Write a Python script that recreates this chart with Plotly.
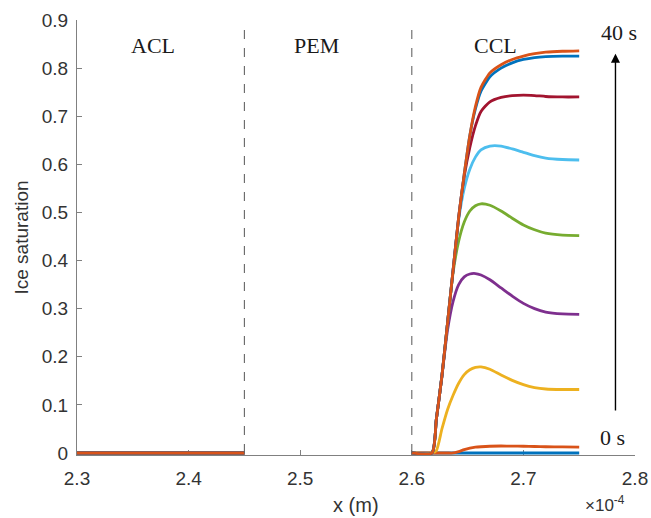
import plotly.graph_objects as go

# x positions (units of 1e-4 m)
x_acl = [2.30, 2.45]
x_ccl = [2.600, 2.618, 2.622, 2.627, 2.632, 2.637, 2.642, 2.647, 2.652, 2.657,
         2.662, 2.670, 2.680, 2.690, 2.700, 2.710, 2.720, 2.735, 2.750]

# ice saturation profiles, 0 s -> 40 s
s_t0 = [0] * 19
s_t1 = [0, 0, 0, 0, 0, 0, 0.003, 0.007, 0.010, 0.012, 0.013, 0.014, 0.0145, 0.0143,
        0.014, 0.0135, 0.013, 0.0125, 0.012]
s_t2 = [0, 0, 0.005, 0.05, 0.09, 0.12, 0.145, 0.163, 0.173, 0.178, 0.179, 0.174,
        0.162, 0.151, 0.142, 0.136, 0.133, 0.132, 0.132]
s_t3 = [0, 0, 0.07, 0.16, 0.255, 0.315, 0.35, 0.366, 0.372, 0.373, 0.370, 0.360,
        0.343, 0.326, 0.311, 0.300, 0.293, 0.289, 0.288]
s_t4 = [0, 0, 0.07, 0.16, 0.27, 0.375, 0.44, 0.48, 0.503, 0.514, 0.518, 0.515,
        0.503, 0.488, 0.474, 0.464, 0.457, 0.453, 0.452]
s_t5 = [0, 0, 0.07, 0.16, 0.27, 0.38, 0.485, 0.55, 0.59, 0.615, 0.63, 0.638,
        0.638, 0.632, 0.625, 0.618, 0.613, 0.61, 0.609]
s_t6 = [0, 0, 0.07, 0.16, 0.27, 0.38, 0.49, 0.575, 0.635, 0.68, 0.71, 0.73,
        0.739, 0.743, 0.744, 0.743, 0.741, 0.740, 0.740]
s_t7 = [0, 0, 0.07, 0.16, 0.27, 0.38, 0.49, 0.58, 0.66, 0.715, 0.752, 0.782,
        0.800, 0.811, 0.818, 0.822, 0.824, 0.825, 0.825]
s_t8 = [0, 0, 0.07, 0.16, 0.27, 0.38, 0.49, 0.58, 0.66, 0.72, 0.76, 0.79,
        0.807, 0.818, 0.825, 0.83, 0.833, 0.835, 0.836]

series = [s_t0, s_t1, s_t2, s_t3, s_t4, s_t5, s_t6, s_t7, s_t8]
colors = ["#0072BD", "#D95319", "#EDB120", "#7E2F8E", "#77AC30", "#4DBEEE",
          "#A2142F", "#0072BD", "#D95319"]

layer_labels = ["ACL", "PEM", "CCL"]
layer_label_x = [2.368, 2.515, 2.675]
boundaries = [2.45, 2.60]

fig = go.Figure()
for s, c in zip(series, colors):
    xs = x_acl + [None] + x_ccl
    ys = [0, 0] + [None] + s
    fig.add_trace(go.Scatter(x=xs, y=ys, mode="lines",
                             line=dict(color=c, width=2.8, shape="spline", smoothing=0.6),
                             showlegend=False, hoverinfo="skip"))

for b in boundaries:
    fig.add_shape(type="line", x0=b, x1=b, y0=0, y1=0.89, xref="x", yref="y",
                  line=dict(color="#666666", width=1.1, dash="dash"))

serif = dict(family="Liberation Serif, Times New Roman, serif", size=22, color="#1a1a1a")
for lab, lx in zip(layer_labels, layer_label_x):
    fig.add_annotation(x=lx, y=0.848, text=lab, showarrow=False, font=serif,
                       xanchor="center", yanchor="middle")

fig.add_annotation(x=2.786, y=0.873, text="40 s", showarrow=False, font=serif,
                   xanchor="center", yanchor="middle")
fig.add_annotation(x=2.780, y=0.033, text="0 s", showarrow=False, font=serif,
                   xanchor="center", yanchor="middle")
fig.add_annotation(x=2.7825, y=0.83, ax=2.7825, ay=0.085, xref="x", yref="y",
                   axref="x", ayref="y", text="", showarrow=True, arrowhead=2,
                   arrowsize=1.3, arrowwidth=1.4, arrowcolor="#000000")

sans = dict(family="Liberation Sans, Arial, sans-serif", color="#333333")
fig.add_annotation(x=0.5, y=0, xref="paper", yref="paper", text="x (m)",
                   showarrow=False, font=dict(size=20, **sans),
                   xanchor="center", yanchor="middle", yshift=-50)
fig.add_annotation(x=0, y=0.5, xref="paper", yref="paper", text="Ice saturation",
                   showarrow=False, font=dict(size=19, **sans), textangle=-90,
                   xanchor="center", yanchor="middle", xshift=-56)
fig.add_annotation(x=1, y=0, xref="paper", yref="paper", text="×10<sup>-4</sup>",
                   showarrow=False, font=dict(size=17, **sans),
                   xanchor="center", yanchor="middle", xshift=-30, yshift=-49)

axis_common = dict(showgrid=False, zeroline=False, showline=True, linecolor="#808080",
                   linewidth=1, ticks="inside", ticklen=5, tickcolor="#808080",
                   tickfont=dict(size=19, **sans), layer="below traces", mirror=False,
                   automargin=False)

fig.update_layout(
    width=651, height=518,
    margin=dict(l=77, r=16, t=20, b=63),
    paper_bgcolor="white", plot_bgcolor="white",
    xaxis=dict(range=[2.3, 2.8], dtick=0.1, tick0=2.3, ticklabelstandoff=6, **axis_common),
    yaxis=dict(range=[-0.0042, 0.9], dtick=0.1, tick0=0, ticklabelstandoff=4, **axis_common),
)

fig.write_html("out.html")
